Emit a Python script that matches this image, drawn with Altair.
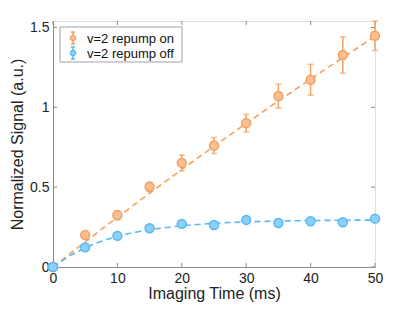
import altair as alt
import pandas as pd

# ---- data ----
series_names = ["v=2 repump on", "v=2 repump off"]
time_ms = [0, 5, 10, 15, 20, 25, 30, 35, 40, 45, 50]
on_signal = [0.0, 0.200, 0.324, 0.502, 0.652, 0.761, 0.901, 1.071, 1.173, 1.328, 1.449]
on_err = [0.0, 0.012, 0.027, 0.030, 0.050, 0.050, 0.055, 0.075, 0.097, 0.114, 0.092]
off_signal = [0.0, 0.123, 0.195, 0.243, 0.270, 0.263, 0.295, 0.276, 0.287, 0.280, 0.303]
off_err = [0.0, 0.010, 0.012, 0.012, 0.018, 0.012, 0.020, 0.018, 0.012, 0.018, 0.015]

fit_time = [0, 2.5, 5, 7.5, 10, 12.5, 15, 20, 25, 30, 35, 40, 45, 50]
on_fit = [0.0, 0.079, 0.157, 0.235, 0.311, 0.387, 0.462, 0.611, 0.757, 0.899, 1.040, 1.177, 1.312, 1.445]
off_fit = [0.0, 0.068, 0.121, 0.161, 0.192, 0.216, 0.234, 0.259, 0.274, 0.283, 0.288, 0.291, 0.293, 0.294]

x_ticks = [0, 10, 20, 30, 40, 50]
y_ticks = [0, 0.5, 1, 1.5]

# ---- style ----
W, H = 322, 246
FONT = "Liberation Sans"
AXIS_GREY = "#8a8a8a"
line_colors = ["#F5A05C", "#55B8F4"]
fill_colors = ["#F8BE94", "#8CD0F8"]

x_scale = alt.Scale(domain=[0, 50], nice=False)
y_scale = alt.Scale(domain=[0, 1.541], nice=False)

x_axis = alt.Axis(values=x_ticks, title="Imaging Time (ms)", ticks=False, grid=False,
                  labelFontSize=14, titleFontSize=16, labelPadding=4, titlePadding=0,
                  labelFont=FONT, titleFont=FONT, labelColor="#222", titleColor="#222",
                  titleFontWeight="normal", domainColor=AXIS_GREY, labelFlush=False)
y_axis = alt.Axis(values=y_ticks, title="Normalized Signal (a.u.)", ticks=False, grid=False,
                  format="~g", labelFontSize=14, titleFontSize=16, labelPadding=4,
                  titlePadding=4, labelFont=FONT, titleFont=FONT, labelColor="#222",
                  titleColor="#222", titleFontWeight="normal", domainColor=AXIS_GREY,
                  labelFlush=False)

layers = []

# invisible layer carrying the axes
base_axes = alt.Chart(pd.DataFrame({"t": [0, 50], "v": [0, 1.541]})).mark_point(opacity=0).encode(
    x=alt.X("t:Q", scale=x_scale, axis=x_axis),
    y=alt.Y("v:Q", scale=y_scale, axis=y_axis),
)
layers.append(base_axes)

# inward ticks
xt = alt.Chart(pd.DataFrame({"t": x_ticks}))
layers.append(xt.mark_rule(color=AXIS_GREY, strokeWidth=1).encode(
    x=alt.X("t:Q", scale=x_scale), y=alt.value(H), y2=alt.value(H - 4)))
layers.append(xt.mark_rule(color=AXIS_GREY, strokeWidth=1).encode(
    x=alt.X("t:Q", scale=x_scale), y=alt.value(0), y2=alt.value(4)))
yt = alt.Chart(pd.DataFrame({"v": y_ticks}))
layers.append(yt.mark_rule(color=AXIS_GREY, strokeWidth=1).encode(
    y=alt.Y("v:Q", scale=y_scale), x=alt.value(0), x2=alt.value(4)))
layers.append(yt.mark_rule(color=AXIS_GREY, strokeWidth=1).encode(
    y=alt.Y("v:Q", scale=y_scale), x=alt.value(W), x2=alt.value(W - 4)))

datasets = [
    (on_signal, on_err, on_fit),
    (off_signal, off_err, off_fit),
]

for i, (sig, err, fit) in enumerate(datasets):
    lc, fc = line_colors[i], fill_colors[i]
    fit_df = pd.DataFrame({"t": fit_time, "v": fit})
    layers.append(alt.Chart(fit_df).mark_line(color=lc, strokeWidth=1.6, strokeDash=[6, 4]).encode(
        x=alt.X("t:Q", scale=x_scale), y=alt.Y("v:Q", scale=y_scale)))
    df = pd.DataFrame({"t": time_ms, "v": sig, "e": err})
    df["lo"] = df["v"] - df["e"]
    df["hi"] = df["v"] + df["e"]
    base = alt.Chart(df).transform_filter("datum.e > 0")
    layers.append(base.mark_rule(color=lc, strokeWidth=1.5).encode(
        x=alt.X("t:Q", scale=x_scale), y=alt.Y("lo:Q", scale=y_scale), y2="hi:Q"))
    for col in ["lo", "hi"]:
        layers.append(base.mark_tick(color=lc, orient="horizontal", size=6, thickness=1.5).encode(
            x=alt.X("t:Q", scale=x_scale), y=alt.Y(f"{col}:Q", scale=y_scale)))
    layers.append(alt.Chart(df).mark_point(filled=True, fill=fc, stroke=lc, strokeWidth=1.5,
                                            size=80, opacity=1, shape="circle").encode(
        x=alt.X("t:Q", scale=x_scale), y=alt.Y("v:Q", scale=y_scale)))

# manual legend
one = pd.DataFrame({"a": [0]})
layers.append(alt.Chart(one).mark_rect(fill="white", stroke="#a0a0a0", strokeWidth=1).encode(
    x=alt.value(7), x2=alt.value(129), y=alt.value(6), y2=alt.value(41)))
for i, name in enumerate(series_names):
    yc = 17 + 15 * i
    lc, fc = line_colors[i], fill_colors[i]
    lg = alt.Chart(pd.DataFrame({"label": [name]}))
    layers.append(lg.mark_rule(color=lc, strokeWidth=1.5).encode(
        x=alt.value(20), y=alt.value(yc - 6), y2=alt.value(yc + 6)))
    for dy in (-6, 6):
        layers.append(lg.mark_rule(color=lc, strokeWidth=1.5).encode(
            x=alt.value(18), x2=alt.value(22), y=alt.value(yc + dy)))
    layers.append(lg.mark_point(filled=True, fill=fc, stroke=lc, strokeWidth=1.2, size=28,
                                opacity=1, shape="circle").encode(
        x=alt.value(20), y=alt.value(yc)))
    layers.append(lg.mark_text(align="left", baseline="middle", fontSize=13, font=FONT,
                               color="#111").encode(
        x=alt.value(34), y=alt.value(yc + 1), text="label:N"))

chart = alt.layer(*layers).properties(
    width=W, height=H,
    autosize=alt.AutoSizeParams(type="none"),
    padding={"left": 45, "top": 13, "right": 31, "bottom": 37},
).configure_view(stroke=AXIS_GREY, strokeWidth=1).configure(background="white")

chart.save("out.html", embed_options={"renderer": "svg", "actions": False})
